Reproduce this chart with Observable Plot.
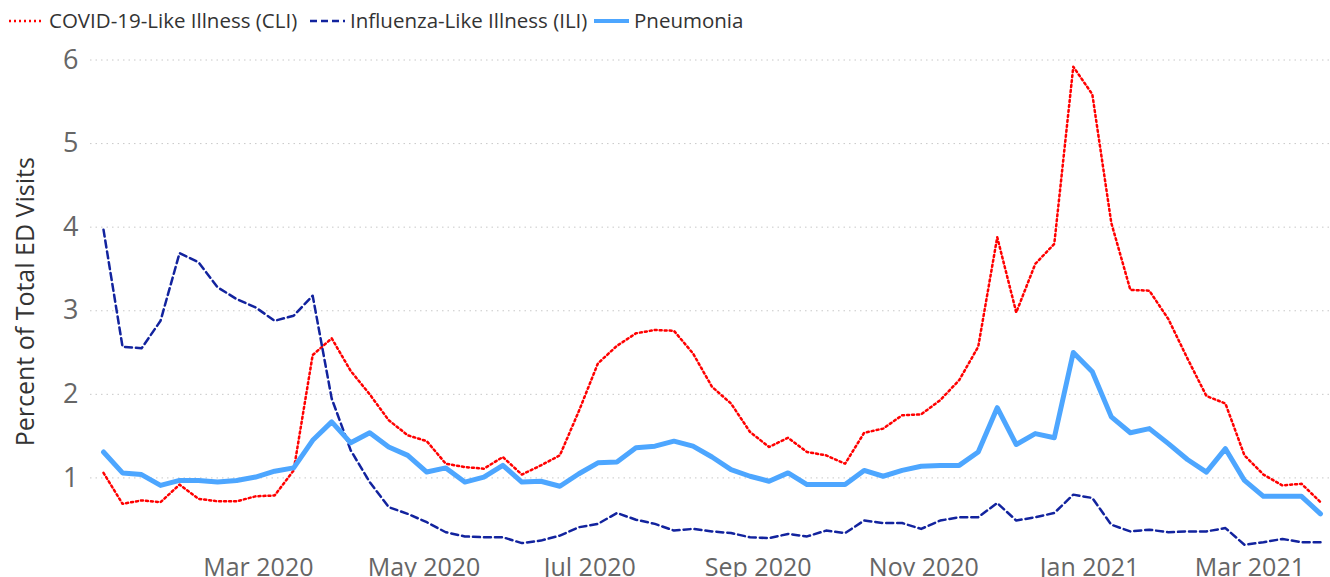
<!DOCTYPE html>
<html>
<head>
<meta charset="utf-8">
<script src="https://cdn.jsdelivr.net/npm/d3@7"></script>
<script src="https://cdn.jsdelivr.net/npm/@observablehq/plot@0.6"></script>
<style>
  html, body { margin: 0; padding: 0; background: #fff; overflow: hidden; width: 1330px; height: 577px; }
  body { font-family: "Open Sans", "Noto Sans", sans-serif; position: relative; }
  #legend { position: absolute; left: 0; top: 0; width: 1330px; height: 38px; }
  .lg-mark { position: absolute; top: 12px; }
  .lg-text { position: absolute; top: 6px; font-size: 20.5px; line-height: 28px; color: #333; white-space: nowrap; }
  #chart { position: absolute; left: 0; top: 38px; }
</style>
</head>
<body>
<div id="legend"></div>
<div id="chart"></div>
<script>
// Week-ending dates (x categories)
const weeks = [
  "2020-01-04","2020-01-11","2020-01-18","2020-01-25","2020-02-01","2020-02-08","2020-02-15","2020-02-22","2020-02-29",
  "2020-03-07","2020-03-14","2020-03-21","2020-03-28","2020-04-04","2020-04-11","2020-04-18","2020-04-25",
  "2020-05-02","2020-05-09","2020-05-16","2020-05-23","2020-05-30","2020-06-06","2020-06-13","2020-06-20","2020-06-27",
  "2020-07-04","2020-07-11","2020-07-18","2020-07-25","2020-08-01","2020-08-08","2020-08-15","2020-08-22","2020-08-29",
  "2020-09-05","2020-09-12","2020-09-19","2020-09-26","2020-10-03","2020-10-10","2020-10-17","2020-10-24","2020-10-31",
  "2020-11-07","2020-11-14","2020-11-21","2020-11-28","2020-12-05","2020-12-12","2020-12-19","2020-12-26",
  "2021-01-02","2021-01-09","2021-01-16","2021-01-23","2021-01-30","2021-02-06","2021-02-13","2021-02-20","2021-02-27",
  "2021-03-06","2021-03-13","2021-03-20","2021-03-27"
];

// COVID-19-Like Illness (CLI), percent of ED visits
const cli = [
  1.06, 0.69, 0.73, 0.71, 0.92, 0.75, 0.72, 0.72, 0.78, 0.79, 1.09, 2.47, 2.67,
  2.28, 2.00, 1.69, 1.51, 1.44, 1.17, 1.13, 1.11, 1.25, 1.04, 1.15, 1.27, 1.80,
  2.37, 2.58, 2.73, 2.77, 2.76, 2.49, 2.09, 1.89, 1.55, 1.37, 1.48, 1.31, 1.27,
  1.17, 1.54, 1.59, 1.75, 1.76, 1.93, 2.17, 2.57, 3.88, 2.98, 3.56, 3.80, 5.92,
  5.59, 4.05, 3.25, 3.24, 2.90, 2.43, 1.98, 1.89, 1.27, 1.04, 0.91, 0.93, 0.71
];

// Influenza-Like Illness (ILI)
const ili = [
  3.97, 2.57, 2.55, 2.88, 3.69, 3.58, 3.28, 3.14, 3.04, 2.88, 2.94, 3.18, 1.95,
  1.33, 0.95, 0.65, 0.57, 0.47, 0.35, 0.30, 0.29, 0.29, 0.22, 0.25, 0.31, 0.41,
  0.45, 0.58, 0.50, 0.45, 0.37, 0.39, 0.36, 0.34, 0.29, 0.28, 0.33, 0.30, 0.37,
  0.34, 0.49, 0.46, 0.46, 0.39, 0.49, 0.53, 0.53, 0.70, 0.49, 0.53, 0.58, 0.80,
  0.76, 0.44, 0.36, 0.38, 0.35, 0.36, 0.36, 0.40, 0.20, 0.23, 0.27, 0.23, 0.23
];

// Pneumonia
const pneumonia = [
  1.31, 1.06, 1.04, 0.91, 0.97, 0.97, 0.95, 0.97, 1.01, 1.08, 1.12, 1.45, 1.67,
  1.42, 1.54, 1.37, 1.27, 1.07, 1.12, 0.95, 1.01, 1.15, 0.95, 0.96, 0.90, 1.05,
  1.18, 1.19, 1.36, 1.38, 1.44, 1.38, 1.25, 1.10, 1.02, 0.96, 1.06, 0.92, 0.92,
  0.92, 1.09, 1.02, 1.09, 1.14, 1.15, 1.15, 1.31, 1.84, 1.40, 1.53, 1.48, 2.50,
  2.27, 1.73, 1.54, 1.59, 1.41, 1.22, 1.07, 1.35, 0.97, 0.78, 0.78, 0.78, 0.57
];

const seriesNames = ["COVID-19-Like Illness (CLI)", "Influenza-Like Illness (ILI)", "Pneumonia"];
const seriesColors = ["#ff0000", "#12239e", "#4da6ff"];
const yTicks = [1, 2, 3, 4, 5, 6];
const xTicks = ["2020-03-01", "2020-05-01", "2020-07-01", "2020-09-01", "2020-11-01", "2021-01-01", "2021-03-01"];
const yLabel = "Percent of Total ED Visits";

const parse = d3.utcParse("%Y-%m-%d");
const toRows = (vals) => weeks.map((w, i) => ({date: parse(w), value: vals[i]}));
const cliRows = toRows(cli), iliRows = toRows(ili), pnRows = toRows(pneumonia);

// Legend
const styles = [
  {dash: "2,3", w: 2.5},
  {dash: "7,4", w: 2.5},
  {dash: null, w: 4}
];
const legendPos = [[9, 49], [310, 350], [594, 634]];
const legend = document.getElementById("legend");
seriesNames.forEach((name, i) => {
  const [mx, tx] = legendPos[i];
  const s = styles[i];
  const m = document.createElementNS("http://www.w3.org/2000/svg", "svg");
  m.setAttribute("class", "lg-mark");
  m.setAttribute("width", 36); m.setAttribute("height", 18);
  m.style.left = mx + "px";
  const l = document.createElementNS("http://www.w3.org/2000/svg", "line");
  l.setAttribute("x1", 0); l.setAttribute("x2", 35); l.setAttribute("y1", 9); l.setAttribute("y2", 9);
  l.setAttribute("stroke", seriesColors[i]); l.setAttribute("stroke-width", s.w);
  if (s.dash) l.setAttribute("stroke-dasharray", s.dash);
  m.appendChild(l);
  legend.appendChild(m);
  const t = document.createElement("div");
  t.className = "lg-text"; t.style.left = tx + "px"; t.textContent = name;
  legend.appendChild(t);
});

const chart = Plot.plot({
  width: 1330,
  height: 562,
  marginLeft: 103,
  marginRight: 10,
  marginTop: 21.5,
  marginBottom: 39,
  style: {fontFamily: '"Open Sans", "Noto Sans", sans-serif', background: "#fff", overflow: "visible"},
  x: {type: "utc", domain: [parse(weeks[0]), parse(weeks[weeks.length - 1])]},
  y: {domain: [0, 6]},
  marks: [
    Plot.ruleY(yTicks, {stroke: "#c8c8c8", strokeWidth: 1, strokeDasharray: "1.5,4", insetLeft: -13, insetRight: -10}),
    Plot.axisY({ticks: yTicks, tickFormat: d3.format("d"), tickSize: 0, tickPadding: 25, fontSize: 27, color: "#666", label: null}),
    Plot.axisX({ticks: xTicks.map(parse), tickFormat: d3.utcFormat("%b %Y"), tickSize: 0, tickPadding: -3, fontSize: 25, color: "#666", label: null}),
    Plot.line(cliRows, {x: "date", y: "value", stroke: seriesColors[0], strokeWidth: 2.5, strokeDasharray: "2,3"}),
    Plot.line(iliRows, {x: "date", y: "value", stroke: seriesColors[1], strokeWidth: 2.5, strokeDasharray: "7,4"}),
    Plot.line(pnRows, {x: "date", y: "value", stroke: seriesColors[2], strokeWidth: 5}),
    Plot.text([yLabel], {text: d => d, frameAnchor: "left", textAnchor: "middle", rotate: -90, dx: -78, dy: -9, fontSize: 25, fill: "#333"})
  ]
});
document.getElementById("chart").appendChild(chart);
</script>
</body>
</html>
